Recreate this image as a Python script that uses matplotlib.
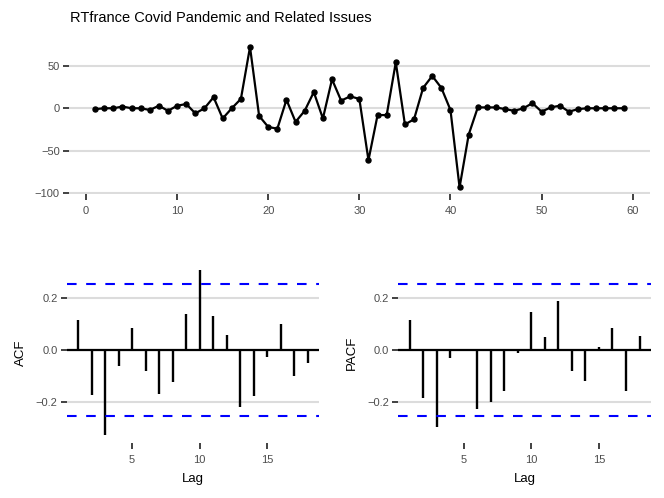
import matplotlib
matplotlib.use("Agg")
import matplotlib.pyplot as plt
import numpy as np

plt.rcParams['font.family'] = ['Liberation Sans', 'DejaVu Sans']

title = "RTfrance Covid Pandemic and Related Issues"
series = [-1, 0, 0, 2, 0, 0, -2, 3, -3, 3, 5, -6, 0, 13, -12, 0, 11, 72, -9, -22,
          -24, 10, -16, -3, 19, -12, 34, 9, 14, 11, -61, -8, -8, 54, -19, -13, 24, 38, 24, -2,
          -93, -31, 1, 1, 1, -1, -3, 0, 6, -4, 1, 3, -4, -1, 0, 0, 0, 0, 0]
time_index = list(range(1, len(series) + 1))
lags = list(range(1, 19))
acf_vals = [0.115, -0.172, -0.327, -0.062, 0.086, -0.079, -0.169, -0.122, 0.138, 0.308,
            0.132, 0.056, -0.218, -0.176, -0.026, 0.100, -0.101, -0.050]
pacf_vals = [0.115, -0.186, -0.297, -0.029, -0.005, -0.226, -0.200, -0.156, -0.010, 0.145,
             0.049, 0.187, -0.079, -0.118, 0.010, 0.085, -0.159, 0.055]
ci = 1.96 / np.sqrt(len(series))

W, H = 664, 498
fig = plt.figure(figsize=(W / 100, H / 100), dpi=100)

def frac(l, t, r, b):
    return [l / W, 1 - b / H, (r - l) / W, (b - t) / H]

grid_col = '#DCDCDC'
tick_col = '#333333'
lab_col = '#4D4D4D'

def style(ax):
    for s in ax.spines.values():
        s.set_visible(False)
    ax.grid(axis='y', color=grid_col, lw=1.5)
    ax.grid(axis='x', visible=False)
    ax.set_axisbelow(True)
    ax.tick_params(direction='out', length=4, width=1.3, color=tick_col,
                   labelcolor=lab_col, labelsize=8, pad=2.5)
    ax.tick_params(axis='x', pad=4.5)

# Top panel
ax1 = fig.add_axes(frac(68.7, 40, 650, 194.4))
style(ax1)
ax1.plot(time_index, series, color='black', lw=1.6, marker='o', ms=3.6, zorder=3)
ax1.set_xlim(-1.9, 61.9)
ymin, ymax = min(series), max(series)
ex = (ymax - ymin) * 0.05
ax1.set_ylim(ymin - ex, ymax + ex)
ax1.set_xticks([0, 10, 20, 30, 40, 50, 60])
ax1.set_yticks([-100, -50, 0, 50])
ax1.set_yticklabels(['\u2212100', '\u221250', '0', '50'])
fig.text(70 / W, 1 - 18 / H, title, fontsize=10.5, va='center', ha='left')

# ACF / PACF panels shared y-range
lo = min(min(acf_vals), min(pacf_vals), -ci)
hi = max(max(acf_vals), max(pacf_vals), ci)
e2 = (hi - lo) * 0.05
xl = (1 - 0.85, 18 + 0.85)

def corr_panel(rect, vals, ylabel):
    ax = fig.add_axes(rect)
    style(ax)
    ax.vlines(lags, 0, vals, color='black', lw=1.7, zorder=3)
    ax.axhline(0, color='black', lw=1.6, zorder=3)
    for c in (ci, -ci):
        ax.axhline(c, color='#0000FF', lw=1.5, linestyle=(0, (4.6, 4.6)), zorder=3)
    ax.set_xlim(*xl)
    ax.set_ylim(lo - e2, hi + e2)
    ax.set_xticks([5, 10, 15])
    ax.set_yticks([-0.2, 0.0, 0.2])
    ax.set_yticklabels(['\u22120.2', '0.0', '0.2'])
    ax.set_xlabel('Lag', fontsize=9.5, labelpad=6)
    ax.set_ylabel(ylabel, fontsize=9.5, labelpad=6.5)
    return ax

corr_panel(frac(66.7, 261.6, 319, 443.3), acf_vals, 'ACF')
corr_panel(frac(398.3, 261.6, 651, 443.3), pacf_vals, 'PACF')

fig.savefig('out.png', dpi=100, facecolor='white')
